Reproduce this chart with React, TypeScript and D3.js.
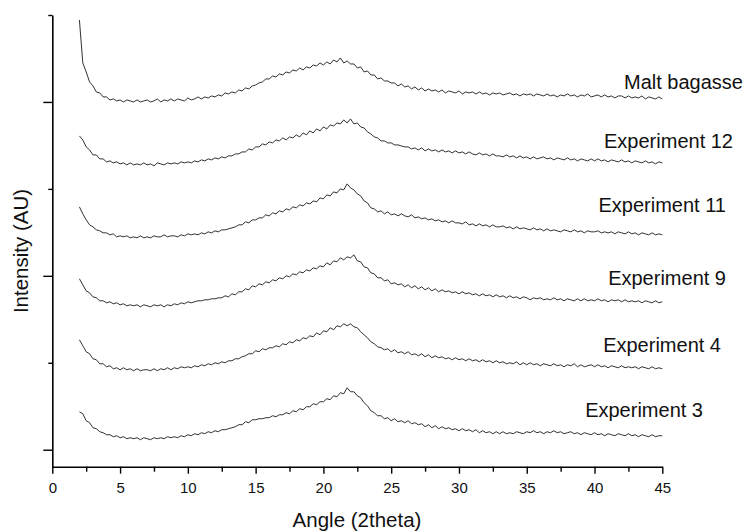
import React, { useEffect, useRef } from "react";
import * as d3 from "d3";

// diffractometer grid (2theta, degrees)
const angleStart = 2;
const angleStep = 0.25;

const seriesNames = [
  "Experiment 3",
  "Experiment 4",
  "Experiment 9",
  "Experiment 11",
  "Experiment 12",
  "Malt bagasse",
];

// vertical stacking offset of each pattern (AU)
const offsets = [0, 70, 135, 205, 275, 340];

// intensities, one value every 0.25 deg from 2 to 45
const experiment3 = [
  38, 36, 29, 27, 22, 21, 18, 17,
  15, 15, 13, 14, 12, 13, 11, 12,
  11, 12, 10, 12, 11, 10, 12, 11,
  12, 11, 13, 12, 13, 12, 14, 13,
  15, 14, 16, 15, 17, 16, 18, 17,
  19, 18, 20, 20, 21, 22, 23, 25,
  25, 28, 27, 30, 30, 31, 31, 32,
  32, 34, 33, 35, 35, 37, 36, 39,
  38, 41, 40, 43, 43, 46, 45, 48,
  48, 51, 50, 54, 53, 57, 56, 62,
  58, 58, 54, 52, 47, 44, 39, 37,
  34, 34, 31, 32, 29, 31, 28, 29,
  27, 29, 26, 27, 25, 26, 23, 25,
  22, 24, 21, 23, 21, 22, 20, 21,
  19, 21, 19, 20, 18, 20, 17, 19,
  17, 18, 16, 18, 16, 18, 16, 17,
  16, 18, 17, 16, 18, 17, 19, 17,
  18, 16, 18, 17, 19, 17, 18, 16,
  17, 18, 16, 17, 15, 17, 16, 15,
  17, 15, 16, 14, 16, 15, 14, 16,
  15, 14, 16, 14, 15, 13, 15, 14,
  13, 15, 13, 14, 14,
];

const experiment4 = [
  40, 34, 28, 26, 21, 20, 16, 16,
  13, 14, 11, 12, 10, 12, 10, 11,
  9, 11, 9, 10, 10, 9, 11, 9,
  11, 10, 12, 10, 12, 11, 13, 12,
  13, 12, 14, 13, 15, 14, 16, 15,
  17, 16, 18, 17, 19, 19, 21, 21,
  23, 24, 26, 26, 29, 28, 31, 30,
  32, 32, 34, 33, 36, 35, 38, 37,
  40, 39, 42, 41, 44, 43, 47, 45,
  49, 48, 52, 50, 54, 53, 56, 54,
  56, 53, 52, 48, 45, 42, 38, 36,
  33, 32, 30, 31, 28, 30, 27, 28,
  26, 28, 25, 26, 24, 26, 23, 25,
  22, 24, 22, 23, 21, 22, 20, 22,
  20, 21, 19, 21, 19, 20, 18, 20,
  18, 19, 17, 19, 17, 18, 16, 17,
  16, 18, 15, 17, 15, 17, 15, 16,
  14, 16, 15, 14, 16, 14, 15, 13,
  15, 14, 16, 13, 15, 13, 14, 15,
  13, 15, 13, 14, 12, 14, 13, 12,
  14, 12, 13, 12, 13, 11, 13, 12,
  11, 13, 11, 12, 11,
];

const experiment9 = [
  36, 30, 24, 22, 18, 17, 14, 14,
  12, 13, 11, 12, 10, 11, 9, 10,
  9, 10, 8, 10, 9, 8, 10, 9,
  10, 8, 10, 9, 11, 10, 12, 11,
  13, 12, 13, 14, 14, 15, 15, 16,
  16, 17, 17, 19, 18, 21, 20, 23,
  23, 26, 25, 29, 28, 31, 30, 33,
  32, 35, 34, 37, 36, 39, 38, 41,
  40, 43, 42, 45, 44, 47, 46, 49,
  48, 52, 50, 54, 53, 57, 55, 58,
  57, 60, 54, 53, 48, 47, 42, 41,
  37, 37, 34, 35, 31, 32, 30, 31,
  28, 30, 27, 29, 26, 28, 25, 27,
  24, 26, 23, 25, 23, 24, 22, 23,
  21, 23, 21, 22, 20, 21, 19, 21,
  19, 20, 18, 20, 18, 19, 17, 19,
  17, 18, 16, 18, 17, 15, 17, 16,
  17, 15, 16, 15, 17, 15, 16, 14,
  16, 15, 14, 16, 14, 16, 14, 15,
  14, 16, 14, 15, 13, 15, 14, 15,
  13, 15, 13, 14, 13, 14, 12, 14,
  13, 12, 14, 12, 13,
];

const experiment11 = [
  38, 31, 25, 20, 18, 15, 14, 12,
  12, 10, 11, 8, 9, 8, 9, 7,
  8, 7, 9, 7, 8, 7, 9, 8,
  8, 10, 8, 9, 9, 8, 10, 9,
  11, 10, 11, 10, 12, 11, 13, 12,
  14, 13, 15, 15, 16, 17, 18, 20,
  20, 23, 22, 25, 25, 27, 27, 30,
  29, 32, 31, 34, 33, 36, 35, 38,
  37, 40, 39, 42, 41, 44, 43, 47,
  46, 50, 49, 53, 52, 56, 55, 61,
  57, 55, 51, 49, 44, 42, 37, 36,
  33, 34, 31, 33, 30, 31, 29, 31,
  29, 28, 30, 27, 28, 26, 27, 25,
  26, 24, 25, 23, 24, 22, 24, 22,
  22, 21, 23, 20, 21, 19, 21, 19,
  20, 18, 20, 18, 18, 19, 17, 18,
  16, 18, 16, 17, 16, 15, 17, 15,
  16, 14, 16, 14, 15, 14, 13, 15,
  14, 13, 15, 13, 14, 12, 14, 13,
  13, 14, 12, 13, 12, 13, 11, 13,
  12, 11, 13, 11, 12, 10, 12, 11,
  10, 12, 10, 11, 10,
];

const experiment12 = [
  39, 35, 28, 25, 20, 20, 16, 16,
  13, 14, 12, 13, 11, 12, 10, 12,
  10, 11, 10, 12, 10, 11, 9, 12,
  11, 10, 12, 11, 12, 11, 13, 12,
  13, 12, 14, 13, 15, 14, 16, 15,
  17, 16, 18, 17, 19, 19, 21, 21,
  23, 23, 26, 25, 28, 28, 31, 30,
  33, 32, 35, 34, 37, 35, 38, 37,
  40, 38, 42, 40, 44, 42, 46, 44,
  48, 46, 50, 49, 52, 51, 55, 52,
  56, 51, 52, 48, 47, 43, 41, 38,
  37, 34, 34, 32, 32, 30, 30, 29,
  28, 28, 26, 27, 25, 27, 24, 26,
  24, 25, 23, 25, 23, 24, 22, 24,
  22, 23, 21, 23, 21, 20, 22, 20,
  21, 19, 21, 19, 19, 18, 20, 18,
  19, 17, 19, 17, 18, 16, 18, 16,
  17, 18, 16, 17, 15, 17, 16, 15,
  17, 15, 16, 14, 16, 15, 14, 16,
  14, 16, 14, 15, 13, 15, 14, 13,
  15, 13, 14, 12, 14, 13, 12, 14,
  12, 13, 11, 13, 12,
];

const maltBagasse = [
  90, 47, 38, 28, 24, 18, 17, 13,
  13, 10, 11, 9, 10, 8, 10, 9,
  8, 10, 8, 9, 10, 8, 9, 11,
  8, 10, 9, 11, 9, 11, 10, 9,
  12, 10, 11, 13, 11, 13, 12, 14,
  13, 15, 14, 17, 16, 18, 17, 20,
  19, 22, 21, 24, 25, 27, 28, 31,
  31, 34, 33, 36, 35, 38, 37, 40,
  39, 42, 40, 43, 42, 45, 44, 47,
  45, 48, 46, 50, 48, 52, 47, 49,
  46, 46, 42, 43, 38, 39, 35, 35,
  31, 32, 29, 29, 27, 27, 24, 26,
  23, 24, 21, 23, 20, 22, 19, 21,
  19, 20, 18, 20, 17, 19, 18, 17,
  19, 16, 18, 17, 18, 16, 18, 16,
  17, 15, 17, 16, 17, 15, 16, 17,
  15, 16, 14, 16, 15, 16, 14, 16,
  15, 14, 16, 14, 15, 13, 15, 14,
  16, 14, 15, 13, 15, 14, 16, 13,
  14, 15, 13, 15, 13, 14, 12, 14,
  14, 12, 14, 12, 13, 12, 14, 11,
  13, 12, 11, 13, 11,
];

const seriesValues = [experiment3, experiment4, experiment9, experiment11, experiment12, maltBagasse];

const xTicks = [0, 5, 10, 15, 20, 25, 30, 35, 40, 45];
const xMinorTicks = [2.5, 7.5, 12.5, 17.5, 22.5, 27.5, 32.5, 37.5, 42.5];
const yTicks = [0, 174, 348];
const yMinorTicks = [87, 261, 435];

// label placement: right edge and baseline, in pixels
const labelRight = [703, 721, 726, 726, 733, 743];
const labelBaseline = [417, 352, 285, 212, 148, 89];

const FONT = "'Liberation Sans', Arial, Helvetica, sans-serif";

const XrdChart = () => {
  const svgRef = useRef(null);

  useEffect(() => {
    const svg = d3.select(svgRef.current);
    svg.selectAll("*").remove();

    const x = d3.scaleLinear().domain([0, 45]).range([52.3, 662.3]);
    const y = d3.scaleLinear().domain([-17, 435]).range([466.7, 15]);

    // patterns
    const line = d3.line();
    seriesValues.forEach((vals, k) => {
      const pts = vals.map((v, i) => [x(angleStart + i * angleStep), y(v + offsets[k])]);
      svg
        .append("path")
        .attr("d", line(pts))
        .attr("fill", "none")
        .attr("stroke", "#1a1a1a")
        .attr("stroke-width", 0.9)
        .attr("stroke-linejoin", "round");
    });

    // x axis
    const gx = svg
      .append("g")
      .attr("transform", "translate(0,466.7)")
      .call(
        d3.axisBottom(x).tickValues(xTicks).tickSize(7).tickPadding(9).tickSizeOuter(0).tickFormat(d3.format("d"))
      );
    gx.attr("font-family", FONT).attr("font-size", 15);
    gx.select(".domain").attr("stroke-width", 1.6);
    gx.selectAll(".tick line").attr("stroke-width", 1.4);
    gx.selectAll(".tick text").attr("fill", "#111");

    const gxm = svg
      .append("g")
      .attr("transform", "translate(0,466.7)")
      .call(d3.axisBottom(x).tickValues(xMinorTicks).tickSize(5).tickSizeOuter(0).tickFormat(() => ""));
    gxm.select(".domain").remove();
    gxm.selectAll(".tick line").attr("stroke-width", 1.4);

    // y axis
    const gy = svg
      .append("g")
      .attr("transform", "translate(52.3,0)")
      .call(d3.axisLeft(y).tickValues(yTicks).tickSize(9).tickSizeOuter(0).tickFormat(() => ""));
    gy.select(".domain").attr("stroke-width", 1.6);
    gy.selectAll(".tick line").attr("stroke-width", 1.4);

    const gym = svg
      .append("g")
      .attr("transform", "translate(52.3,0)")
      .call(d3.axisLeft(y).tickValues(yMinorTicks).tickSize(4).tickSizeOuter(0).tickFormat(() => ""));
    gym.select(".domain").remove();
    gym.selectAll(".tick line").attr("stroke-width", 1.4);

    // series labels
    seriesNames.forEach((name, k) => {
      svg
        .append("text")
        .attr("x", labelRight[k])
        .attr("y", labelBaseline[k])
        .attr("text-anchor", "end")
        .attr("font-family", FONT)
        .attr("font-size", 20)
        .attr("fill", "#111")
        .text(name);
    });

    // axis titles
    svg
      .append("text")
      .attr("x", 357)
      .attr("y", 527)
      .attr("text-anchor", "middle")
      .attr("font-family", FONT)
      .attr("font-size", 20.5)
      .attr("fill", "#111")
      .text("Angle (2theta)");

    svg
      .append("text")
      .attr("transform", "translate(27.5,251) rotate(-90)")
      .attr("text-anchor", "middle")
      .attr("font-family", FONT)
      .attr("font-size", 20.5)
      .attr("fill", "#111")
      .text("Intensity (AU)");
  }, []);

  return (
    <svg
      ref={svgRef}
      width={746}
      height={532}
      style={{ position: "absolute", left: 0, top: 0, background: "#fff" }}
    ></svg>
  );
};

export default function App() {
  return <XrdChart />;
}
